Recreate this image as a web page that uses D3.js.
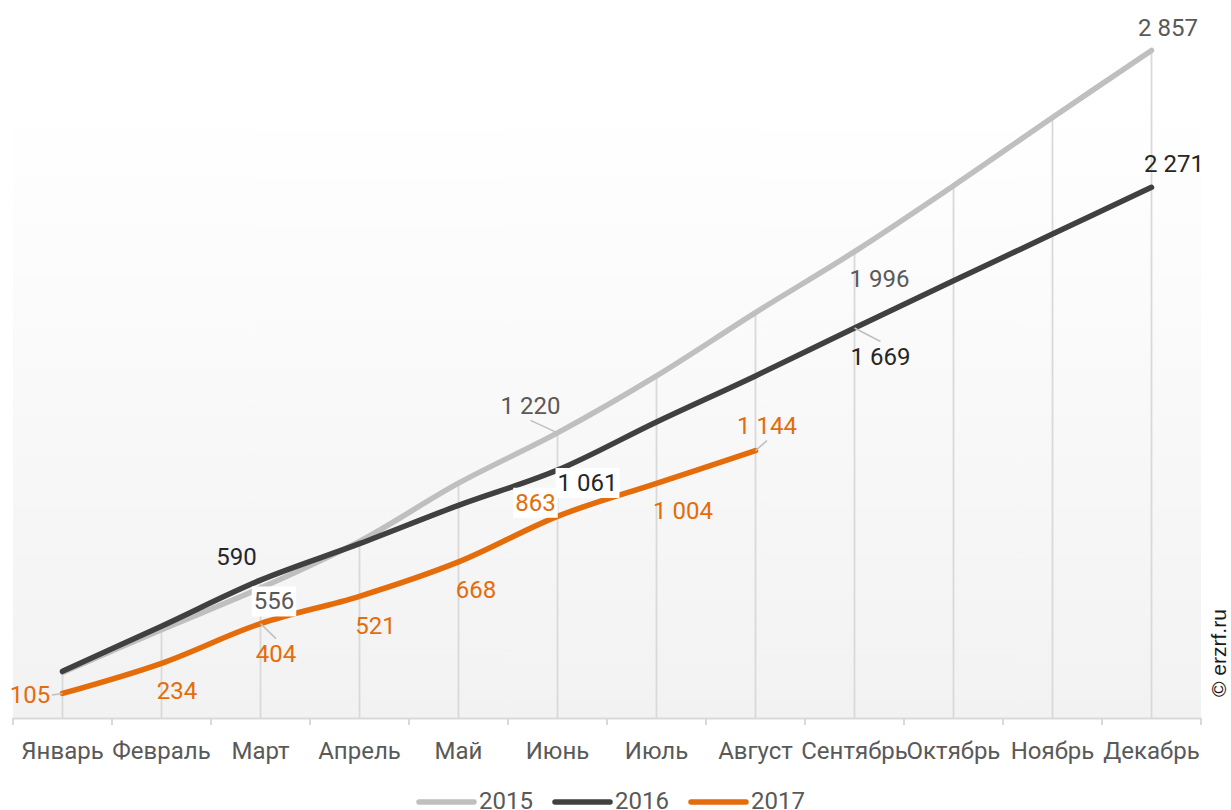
<!DOCTYPE html>
<html><head><meta charset="utf-8">
<script src="https://cdn.jsdelivr.net/npm/d3@7"></script>
<style>
html,body{margin:0;padding:0;background:#fff;}
svg{display:block;}
</style></head>
<body>
<svg id="chart" width="1231" height="810"></svg>
<script>
const months = ["Январь","Февраль","Март","Апрель","Май","Июнь","Июль","Август","Сентябрь","Октябрь","Ноябрь","Декабрь"];
const years = ["2015","2016","2017"];
const values2015 = [195, 378, 556, 756, 1005, 1220, 1464, 1735, 1996, 2278, 2570, 2857];
const values2016 = [200, 393, 590, 746, 910, 1061, 1267, 1464, 1669, 1871, 2071, 2271];
const values2017 = [105, 234, 404, 521, 668, 863, 1004, 1144];
const labeled2015 = [2, 5, 8, 11];
const labeled2016 = [2, 5, 8, 11];
const labeled2017 = [0, 1, 2, 3, 4, 5, 6, 7];

const colors = {"2015":"#bfbfbf","2016":"#404040","2017":"#e46c0a"};
const labelColors = {"2015":"#595959","2016":"#262626","2017":"#e46c0a"};

const svg = d3.select("#chart");
const x = d3.scaleBand().domain(months).range([13, 1201]).padding(0);
const y = d3.scaleLinear().domain([0, 3000]).range([718, 17]);
const cx = m => x(m) + x.bandwidth()/2;

// background gradient
const defs = svg.append("defs");
const grad = defs.append("linearGradient").attr("id","bg").attr("x1",0).attr("y1",0).attr("x2",0).attr("y2",1);
grad.append("stop").attr("offset","0%").attr("stop-color","#ffffff");
grad.append("stop").attr("offset","12%").attr("stop-color","#ffffff");
grad.append("stop").attr("offset","100%").attr("stop-color","#f2f2f2");
svg.append("rect").attr("x",13).attr("y",y(3000)).attr("width",1201-13).attr("height",y(0)-y(3000)).attr("fill","url(#bg)");

const series = [
  {name:"2015", values: values2015, labeled: labeled2015},
  {name:"2016", values: values2016, labeled: labeled2016},
  {name:"2017", values: values2017, labeled: labeled2017}
];

// drop lines to the highest point in each category
const maxPer = months.map((m,i) => d3.max(series, s => s.values[i] !== undefined ? s.values[i] : 0));
svg.append("g").selectAll("line").data(months).join("line")
  .attr("x1", m => cx(m)).attr("x2", m => cx(m))
  .attr("y1", y(0)).attr("y2", (m,i) => y(maxPer[i]))
  .attr("stroke","#d9d9d9").attr("stroke-width",1.8);

// axis
const axis = d3.axisBottom(x).tickSize(0).tickPadding(24);
const gAxis = svg.append("g").attr("transform",`translate(0,${y(0)})`).call(axis);
gAxis.select(".domain").attr("stroke","#d9d9d9").attr("stroke-width",2);
gAxis.selectAll("text").attr("font-family","Roboto").attr("font-size",24).attr("fill","#595959");
const bounds = months.map(m => x(m)).concat([x(months[months.length-1]) + x.bandwidth()]);
gAxis.append("g").selectAll("line").data(bounds).join("line")
  .attr("x1", d=>d).attr("x2", d=>d).attr("y1",0).attr("y2",7)
  .attr("stroke","#d9d9d9").attr("stroke-width",2);

// lines
const line = d3.line().x((d,i) => cx(months[i])).y(d => y(d)).curve(d3.curveCatmullRom.alpha(0.5));
svg.append("g").selectAll("path").data(series).join("path")
  .attr("d", s => line(s.values))
  .attr("fill","none").attr("stroke", s => colors[s.name]).attr("stroke-width",5.5)
  .attr("stroke-linecap","round").attr("stroke-linejoin","round");

// label offsets (dx, dy of label centre from point, white box, leader line)
const offsets = {
  "2015": {2:[13.5,13,true,false],5:[-27,-27.5,false,true],8:[25,26.5,false,false],11:[16.5,-22.5,false,false]},
  "2016": {2:[-24,-23.5,false,false],5:[30,12.5,true,false],8:[26,28.5,false,true],11:[22.5,-24,false,false]},
  "2017": {0:[-32.5,1.5,false,true],1:[15.5,27,false,false],2:[15.5,30,false,true],3:[16,29,false,false],4:[17.5,28,false,false],5:[-22,-14,true,false],6:[26.5,27.5,false,false],7:[11.5,-25,false,true]}
};
const fmt = v => d3.format(",")(v).replace(/,/g," ");
const gLab = svg.append("g");
series.forEach(s => {
  s.labeled.forEach(i => {
    const o = offsets[s.name][i];
    const px = cx(months[i]), py = y(s.values[i]);
    const lx = px + o[0], ly = py + o[1];
    if (o[3]) {
      let ex, ey;
      if (Math.abs(o[1]) > 10) { ex = lx; ey = ly - Math.sign(o[1]) * 15; }
      else { ex = lx - Math.sign(o[0]) * 22; ey = ly; }
      gLab.append("line").attr("x1",px).attr("y1",py).attr("x2",ex).attr("y2",ey)
        .attr("stroke","#bfbfbf").attr("stroke-width",1.5);
    }
    const t = gLab.append("text").attr("x",lx).attr("y",ly).attr("dy","0.35em")
      .attr("text-anchor","middle").attr("font-family","Roboto").attr("font-size",24)
      .attr("fill",labelColors[s.name]).text(fmt(s.values[i]));
    if (o[2]) {
      const bb = t.node().getBBox();
      gLab.insert("rect", () => t.node()).attr("x",bb.x-2).attr("y",bb.y-1).attr("width",bb.width+4).attr("height",bb.height+2).attr("fill","#fff");
    }
  });
});

// legend
const legX = [419, 555, 691];
const gLeg = svg.append("g");
years.forEach((yr,k) => {
  gLeg.append("line").attr("x1",legX[k]).attr("x2",legX[k]+55).attr("y1",802).attr("y2",802)
    .attr("stroke",colors[yr]).attr("stroke-width",5.5).attr("stroke-linecap","round");
  gLeg.append("text").attr("x",legX[k]+60).attr("y",801).attr("dy","0.35em")
    .attr("font-family","Roboto").attr("font-size",24).attr("fill","#595959").text(yr);
});

// watermark
svg.append("text").attr("transform","translate(1226,697) rotate(-90)")
  .attr("font-family","Liberation Sans, Arial").attr("font-size",21).attr("fill","#1a1a1a").text("© erzrf.ru");
</script>
</body></html>
